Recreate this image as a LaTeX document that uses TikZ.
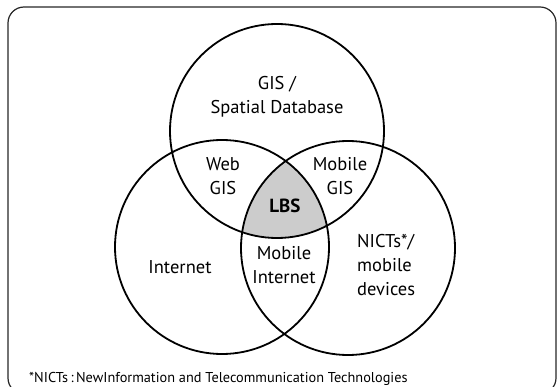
\documentclass[tikz,border=0pt]{standalone}
\usepackage{fontspec}
\setmainfont{PT Sans}
\begin{document}
\begin{tikzpicture}[x=1pt,y=-1pt,
  venn/.style={circle, draw, line width=1.8pt, minimum size=214pt, inner sep=0pt},
  lbl/.style={font=\fontsize{18.5}{24}\selectfont, align=center, inner sep=0pt},
  frame/.style={draw=black!85, line width=1.2pt, rounded corners=16pt}]
\useasboundingbox (0,0) rectangle (559,387);
\begin{scope}
  \clip (0,0) rectangle (559,387);
  \draw[frame] (8,7) rectangle (556,394);
\end{scope}
\begin{scope}
  \clip (277,131) circle (107pt);
  \clip (222,247) circle (107pt);
  \fill[black!20] (348,248) circle (107pt);
\end{scope}
\node[venn] (gis) at (277,131) {};
\node[venn] (net) at (222,247) {};
\node[venn] (nict) at (348,248) {};
\node[lbl] (t1) at (277,97) {GIS /\\Spatial Database};
\node[lbl] (t2) at (223,176) {Web\\GIS};
\node[lbl] (t3) at (340,176) {Mobile\\GIS};
\node[lbl, font=\fontsize{19}{24}\selectfont\bfseries] (t4) at (285,206) {LBS};
\node[lbl] (t5) at (180,267) {Internet};
\node[lbl] (t6) at (284,265) {Mobile\\Internet};
\node[lbl, align=left, anchor=west] (t7) at (357,265) {NICTs*/\\mobile\\devices};
\node[font=\fontsize{14.3}{16}\selectfont, anchor=west, inner sep=0pt] (fn) at (29,379) {*NICTs\,:\,NewInformation and Telecommunication Technologies};
\end{tikzpicture}
\end{document}
